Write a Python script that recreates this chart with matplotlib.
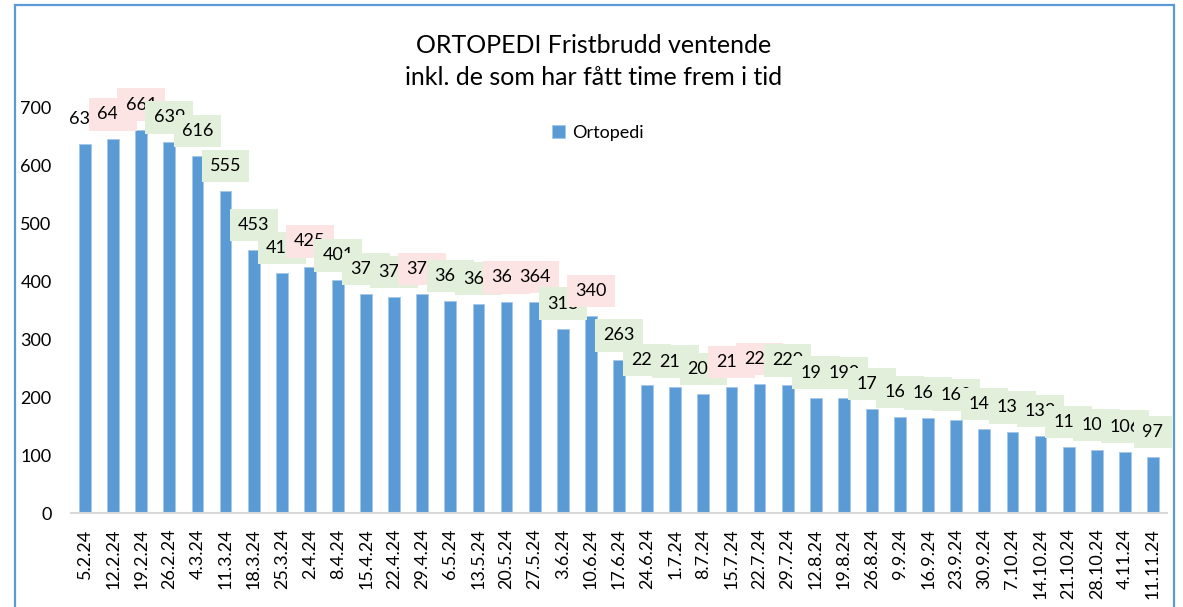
import matplotlib
matplotlib.use('Agg')
import matplotlib.pyplot as plt
from matplotlib.patches import Rectangle

dates = ["5.2.24", "12.2.24", "19.2.24", "26.2.24", "4.3.24", "11.3.24", "18.3.24",
         "25.3.24", "2.4.24", "8.4.24", "15.4.24", "22.4.24", "29.4.24", "6.5.24",
         "13.5.24", "20.5.24", "27.5.24", "3.6.24", "10.6.24", "17.6.24", "24.6.24",
         "1.7.24", "8.7.24", "15.7.24", "22.7.24", "29.7.24", "12.8.24", "19.8.24",
         "26.8.24", "9.9.24", "16.9.24", "23.9.24", "30.9.24", "7.10.24", "14.10.24",
         "21.10.24", "28.10.24", "4.11.24", "11.11.24"]
values = [637, 644, 661, 639, 616, 555, 453,
          414, 425, 401, 378, 372, 377, 366,
          361, 363, 364, 318, 340, 263, 221,
          218, 205, 217, 222, 220, 199, 198,
          179, 165, 163, 160, 145, 139, 133,
          114, 108, 106, 97]
yticks = [0, 100, 200, 300, 400, 500, 600, 700]
title_line1 = "ORTOPEDI Fristbrudd ventende"
title_line2 = "inkl. de som har fått time frem i tid"
series_name = "Ortopedi"

plt.rcParams['font.family'] = ['Lato', 'DejaVu Sans']

W, H = 1183, 607
fig = plt.figure(figsize=(W / 100, H / 100), dpi=100)
fig.patch.set_facecolor('white')

ax = fig.add_axes([71 / W, 1 - 513 / H, 1096 / W, 406 / H])
xs = list(range(len(values)))
ax.bar(xs, values, width=0.42, color='#5B9BD5', edgecolor='#A6C8E8',
       linewidth=0.6, label=series_name, zorder=2)
ax.set_xlim(-0.5, len(values) - 0.5)
ax.set_ylim(0, 700)
ax.set_yticks(yticks)
ax.set_xticks(xs)
ax.set_xticklabels(dates, rotation=90, fontsize=13)
ax.tick_params(axis='y', length=0, pad=14, labelsize=13)
ax.tick_params(axis='x', length=0, pad=11)
for s in ['left', 'right', 'top']:
    ax.spines[s].set_visible(False)
ax.spines['bottom'].set_color('#D9D9D9')
ax.spines['bottom'].set_linewidth(1.5)

pink = '#FCE4E4'
green = '#E2EFDA'
for i, v in enumerate(values):
    if i == 0:
        bbox = dict(boxstyle='square,pad=0.45', fc='none', ec='none')
    else:
        fc = pink if v > values[i - 1] else green
        bbox = dict(boxstyle='square,pad=0.45', fc=fc, ec='none')
    ax.annotate(str(v), xy=(i, v), xytext=(0, 18), textcoords='offset points',
                ha='center', va='center', fontsize=13, color='black',
                bbox=bbox, zorder=5, annotation_clip=False)

ax.legend(loc='center', bbox_to_anchor=(0.481, 0.936), frameon=False,
          fontsize=13, handlelength=0.7, handleheight=0.7, handletextpad=0.4)

fig.text(594 / W, 1 - 53 / H, title_line1, ha='center', va='baseline', fontsize=18)
fig.text(594 / W, 1 - 85 / H, title_line2, ha='center', va='baseline', fontsize=18)

border = Rectangle((15 / W, -0.1), (1174 - 15) / W, (1 - 4.5 / H) + 0.1,
                   transform=fig.transFigure, fill=False, ec='#5B9BD5', lw=1.6,
                   clip_on=False)
fig.patches.append(border)

fig.savefig('out.png', dpi=100)
